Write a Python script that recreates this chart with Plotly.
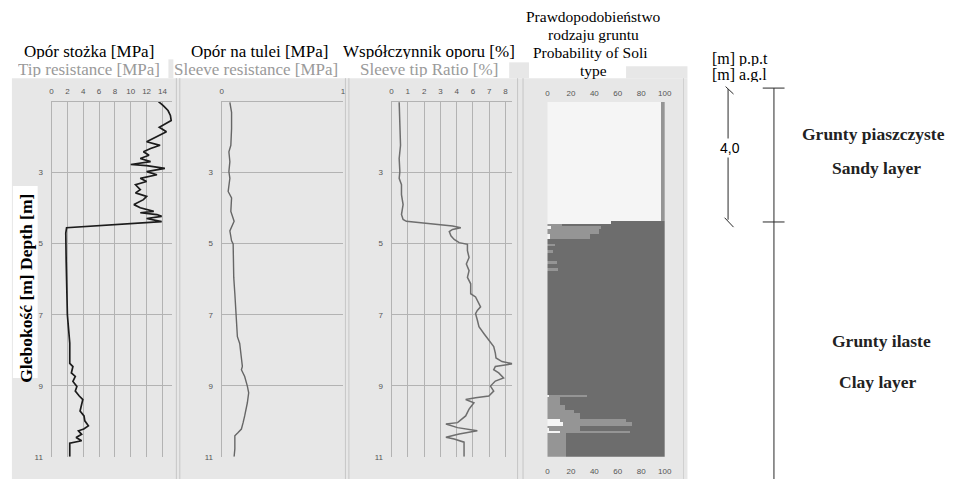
import plotly.graph_objects as go

# ---------------- data ----------------
# Cone resistance qc [MPa] vs depth [m]
qc_depth = [1.00, 1.11, 1.25, 1.39, 1.53, 1.62, 1.72, 1.85, 1.99, 2.13, 2.23, 2.32, 2.41, 2.51,
            2.60, 2.69, 2.77, 2.80, 2.88, 2.97, 3.06, 3.16, 3.25, 3.34, 3.48, 3.57, 3.67, 3.76,
            3.90, 3.99, 4.09, 4.13, 4.18, 4.23, 4.29, 4.38, 4.55, 4.70, 5.50, 6.50, 7.00, 7.80,
            8.37, 8.46, 8.64, 8.74, 8.88, 9.02, 9.15, 9.29, 9.39, 9.57, 9.71, 9.85, 9.99, 10.13,
            10.22, 10.27, 10.37, 10.46, 10.55, 10.62, 11.00]
qc_value = [13.5, 14.1, 14.7, 15.0, 15.1, 14.3, 13.6, 14.5, 13.3, 12.0, 13.7, 12.5, 11.6, 12.3,
            11.2, 12.5, 10.0, 12.0, 14.3, 12.0, 13.3, 11.2, 12.0, 10.6, 11.2, 10.6, 12.0, 11.6,
            10.4, 11.2, 12.9, 11.2, 13.3, 13.9, 12.0, 13.9, 1.9, 1.8, 1.85, 1.95, 2.0, 2.3,
            2.3, 2.7, 2.5, 3.0, 2.7, 3.2, 3.0, 3.5, 3.95, 3.75, 3.6, 4.1, 4.2, 4.65,
            4.07, 3.4, 3.8, 3.1, 3.8, 2.3, 2.3]

# Sleeve friction fs [MPa] vs depth [m]
fs_depth = [1.02, 1.30, 1.76, 2.23, 2.41, 2.69, 2.97, 3.16, 3.53, 3.71, 4.09, 4.37, 4.64, 4.92,
            5.01, 5.48, 5.95, 6.41, 6.88, 7.34, 7.62, 7.81, 8.27, 8.46, 8.55, 8.74, 9.01, 9.20,
            9.48, 9.66, 9.85, 10.04, 10.22, 10.32, 10.41, 10.78, 11.00]
fs_value = [0.068, 0.082, 0.082, 0.076, 0.060, 0.068, 0.060, 0.068, 0.054, 0.082, 0.076, 0.103,
            0.068, 0.082, 0.095, 0.095, 0.100, 0.109, 0.117, 0.122, 0.130, 0.149, 0.163, 0.171,
            0.163, 0.190, 0.212, 0.223, 0.212, 0.204, 0.190, 0.177, 0.163, 0.136, 0.109, 0.109,
            0.103]

# Friction ratio Rf [%] vs depth [m]
rf_depth = [1.02, 1.76, 2.23, 2.60, 2.97, 3.16, 3.34, 3.62, 3.90, 4.18, 4.32, 4.37, 4.41, 4.46,
            4.50, 4.55, 4.60, 4.66, 4.78, 4.88, 4.97, 5.02, 5.20, 5.39, 5.57, 5.76, 5.95, 6.13,
            6.41, 6.50, 6.69, 6.78, 6.88, 6.97, 7.15, 7.34, 7.53, 7.71, 7.90, 8.08, 8.22, 8.32,
            8.38, 8.46, 8.55, 8.64, 8.78, 8.87, 9.01, 9.15, 9.29, 9.34, 9.39, 9.48, 9.66, 9.85,
            10.04, 10.08, 10.18, 10.27, 10.36, 10.45, 10.50, 10.59, 11.00]
rf_value = [0.56, 0.61, 0.66, 0.56, 0.61, 0.56, 0.73, 0.73, 0.85, 0.73, 0.85, 1.09, 2.31, 3.53,
            4.50, 5.11, 4.50, 4.26, 4.38, 4.62, 4.99, 5.60, 5.60, 5.72, 5.52, 5.72, 5.60, 5.84,
            5.84, 6.20, 6.45, 6.57, 6.33, 6.20, 6.33, 6.45, 6.81, 7.18, 7.54, 7.66, 7.71, 8.15,
            8.95, 7.66, 7.54, 7.91, 8.27, 7.66, 7.30, 7.54, 7.18, 6.20, 5.47, 6.08, 5.72, 5.47,
            4.87, 4.01, 4.87, 6.33, 4.99, 4.01, 4.62, 5.35, 5.35]

# Soil type probability [%] per depth interval
soil_top =    [1.00, 4.37, 4.46, 4.50, 4.60, 4.74, 4.88, 5.02, 5.06, 5.18, 5.25, 5.48, 5.56, 5.69,
               5.76, 9.25, 9.32, 9.53, 9.67, 9.76, 9.93, 10.02, 10.13, 10.20, 10.27, 10.34, 10.41]
soil_bottom = [4.37, 4.46, 4.50, 4.60, 4.74, 4.88, 5.02, 5.06, 5.18, 5.25, 5.48, 5.56, 5.69, 5.76,
               9.25, 9.32, 9.53, 9.67, 9.76, 9.93, 10.02, 10.13, 10.20, 10.27, 10.34, 10.41, 11.00]
sand_pct =    [97, 54, 0, 3, 0, 2, 0, 0, 0, 0, 0, 0, 0, 0,
               0, 1, 0, 0, 0, 0, 11, 13, 0, 1, 11, 0, 0]
silt_pct =    [3, 0, 12, 43, 44, 34, 0, 6, 0, 5, 0, 8, 0, 9,
               0, 33, 11, 15, 23, 28, 56, 59, 28, 27, 59, 16, 16]
clay_pct =    [100 - a - b for a, b in zip(sand_pct, silt_pct)]

qc_ticks = [0, 2, 4, 6, 8, 10, 12, 14]
fs_ticks = [0, 1]
rf_ticks = [0, 1.2, 2.4, 3.6, 4.8, 6.0, 7.2, 8.4]
rf_ticktext = ["0", "1", "2", "3", "4", "6", "7", "8"]
prob_ticks = [0, 20, 40, 60, 80, 100]
depth_ticks = [3, 5, 7, 9, 11]

# ---------------- layout helpers ----------------
W, H = 953, 484


def px(x):
    return x / W


def py(y):
    return 1 - y / H


GRID = "#b3b3b3"
PANEL_BG = "#e7e7e7"
TICKFONT = dict(family="Liberation Sans, Arial, sans-serif", size=8, color="#555555")
SERIF = "Liberation Serif, Times New Roman, serif"
Y_DOMAIN = [py(461.5), py(102.7)]

fig = go.Figure()

fig.add_trace(go.Scatter(x=qc_value, y=qc_depth, mode="lines",
                         line=dict(color="#1c1c1c", width=1.7), xaxis="x", yaxis="y"))
fig.add_trace(go.Scatter(x=fs_value, y=fs_depth, mode="lines",
                         line=dict(color="#666666", width=1.4), xaxis="x2", yaxis="y2"))
fig.add_trace(go.Scatter(x=rf_value, y=rf_depth, mode="lines",
                         line=dict(color="#6e6e6e", width=1.5), xaxis="x3", yaxis="y3"))

mid = [(a + b) / 2 for a, b in zip(soil_top, soil_bottom)]
thick = [b - a for a, b in zip(soil_top, soil_bottom)]
for vals, col in [(sand_pct, "#f5f5f5"), (silt_pct, "#959595"), (clay_pct, "#6d6d6d")]:
    fig.add_trace(go.Bar(x=vals, y=mid, width=thick, orientation="h",
                         marker=dict(color=col, line=dict(width=0)),
                         xaxis="x4", yaxis="y4"))
# carrier for the bottom percentage axis
fig.add_trace(go.Scatter(x=[None], y=[None], mode="markers", xaxis="x5", yaxis="y4",
                         showlegend=False))


def xaxis(domain, rng, tickvals, ticktext=None, anchor="y", side="top", grid=True, line=True):
    return dict(domain=domain, range=rng, side=side, tickvals=tickvals, ticktext=ticktext,
                showgrid=grid, gridcolor=GRID, gridwidth=1, zeroline=False,
                showline=line, linecolor=GRID, linewidth=1, ticks="", tickfont=TICKFONT,
                anchor=anchor, fixedrange=True, ticklabelstandoff=3)


def yaxis(anchor, labels=True, grid=True):
    return dict(domain=Y_DOMAIN, range=[11, 1], tickvals=depth_ticks,
                showticklabels=labels, showgrid=grid, gridcolor=GRID, gridwidth=1,
                zeroline=False, showline=grid, linecolor=GRID, ticks="",
                tickfont=TICKFONT, anchor=anchor, fixedrange=True, ticklabelstandoff=6)


fig.update_layout(
    width=W, height=H,
    margin=dict(l=0, r=0, t=0, b=0),
    paper_bgcolor="white", plot_bgcolor=PANEL_BG,
    showlegend=False, barmode="stack",
    xaxis=xaxis([px(50), px(172)], [0, 15.25], qc_ticks, anchor="y"),
    yaxis=yaxis("x"),
    xaxis2=xaxis([px(221.7), px(344.3)], [0, 1], fs_ticks, anchor="y2"),
    yaxis2=yaxis("x2"),
    xaxis3=xaxis([px(393.3), px(515)], [0, 8.9], rf_ticks, rf_ticktext, anchor="y3"),
    yaxis3=yaxis("x3"),
    xaxis4=xaxis([px(550.7), px(669)], [0, 100], prob_ticks, anchor="y4", grid=False, line=False),
    xaxis5=dict(overlaying="x4", range=[0, 100], side="bottom", tickvals=prob_ticks,
                showgrid=False, zeroline=False, showline=False, ticks="", tickfont=TICKFONT,
                anchor="y4", fixedrange=True, ticklabelstandoff=8),
    yaxis4=yaxis("x4", labels=False, grid=False),
)

# ---------------- background panels ----------------
shapes = []


def rect(x0, y0, x1, y1, color):
    shapes.append(dict(type="rect", xref="paper", yref="paper", layer="below",
                       x0=px(x0), x1=px(x1), y0=py(y1), y1=py(y0),
                       fillcolor=color, line=dict(width=0)))


def seg(x0, y0, x1, y1, color="#2a2a2a", width=1, layer="above"):
    shapes.append(dict(type="line", xref="paper", yref="paper", layer=layer,
                       x0=px(x0), x1=px(x1), y0=py(y0), y1=py(y1),
                       line=dict(color=color, width=width)))


rect(10, 79, 692, 484, PANEL_BG)
rect(512, 63, 532, 79, PANEL_BG)
rect(630, 67, 692, 79, PANEL_BG)
rect(168, 60, 173, 79, PANEL_BG)
rect(11, 188, 36, 382, "white")

# double separators between the panels
for xs in [(176, 179.5), (346.7, 350.2), (520.5, 526)]:
    for x in xs:
        seg(x, 79, x, 484, color="#c6c6c6", width=1, layer="below")
seg(688, 79, 688, 484, color="#d0d0d0", width=1, layer="below")

# layer column on the right
seg(779.3, 89, 779.3, 484)
seg(768, 89, 790, 89)
seg(768, 224.3, 790, 224.3)
# thickness dimension
seg(733, 90, 733, 222)
seg(730.5, 87.5, 738.5, 95)
seg(729.5, 220, 738.5, 229.5)

fig.update_layout(shapes=shapes)

# ---------------- texts ----------------
ann = []


def text(x, y, s, size=17, color="black", family=SERIF, bold=False, bg=None, angle=0,
         height=None):
    if bold:
        s = "<b>" + s + "</b>"
    d = dict(xref="paper", yref="paper", x=px(x), y=py(y), text=s, showarrow=False,
             xanchor="center", yanchor="middle", textangle=angle,
             font=dict(family=family, size=size, color=color))
    if bg:
        d["bgcolor"] = bg
    if height:
        d["height"] = height
    ann.append(d)


text(88, 52, "Opór stożka [MPa]", height=16)
text(88, 70, "Tip resistance [MPa]", color="#9a9a9a", height=16)
text(260, 52, "Opór na tulei [MPa]", height=16)
text(256, 70, "Sleeve resistance [MPa]", color="#9a9a9a", height=16)
text(431, 52, "Współczynnik oporu [%]", height=16)
text(431, 70, "Sleeve tip Ratio [%]", color="#9a9a9a", height=16)
text(597, 17, "Prawdopodobieństwo", size=15.5, height=17)
text(597, 35, "rodzaju gruntu", size=15.5, height=17)
text(594, 53, "Probability of Soli", size=15.5, height=17)
text(597, 71, "type", size=15.5, height=17)

text(24, 291, "Glebokość [m] Depth [m]", size=17.5, bold=True, angle=-90)

text(745, 59, "[m] p.p.t", size=16, height=15)
text(745, 75, "[m] a.g.l", size=16, height=15)
text(735, 150, "4,0", size=14, family="Liberation Sans, Arial, sans-serif", bg="white")

text(880, 135, "Grunty piaszczyste", size=17.5, bold=True, color="#222222")
text(883, 170, "Sandy layer", size=17.5, bold=True, color="#222222")
text(888, 345, "Grunty ilaste", size=17.5, bold=True, color="#222222")
text(884, 386, "Clay layer", size=17.5, bold=True, color="#222222")

fig.update_layout(annotations=ann)

fig.write_html("out.html")
